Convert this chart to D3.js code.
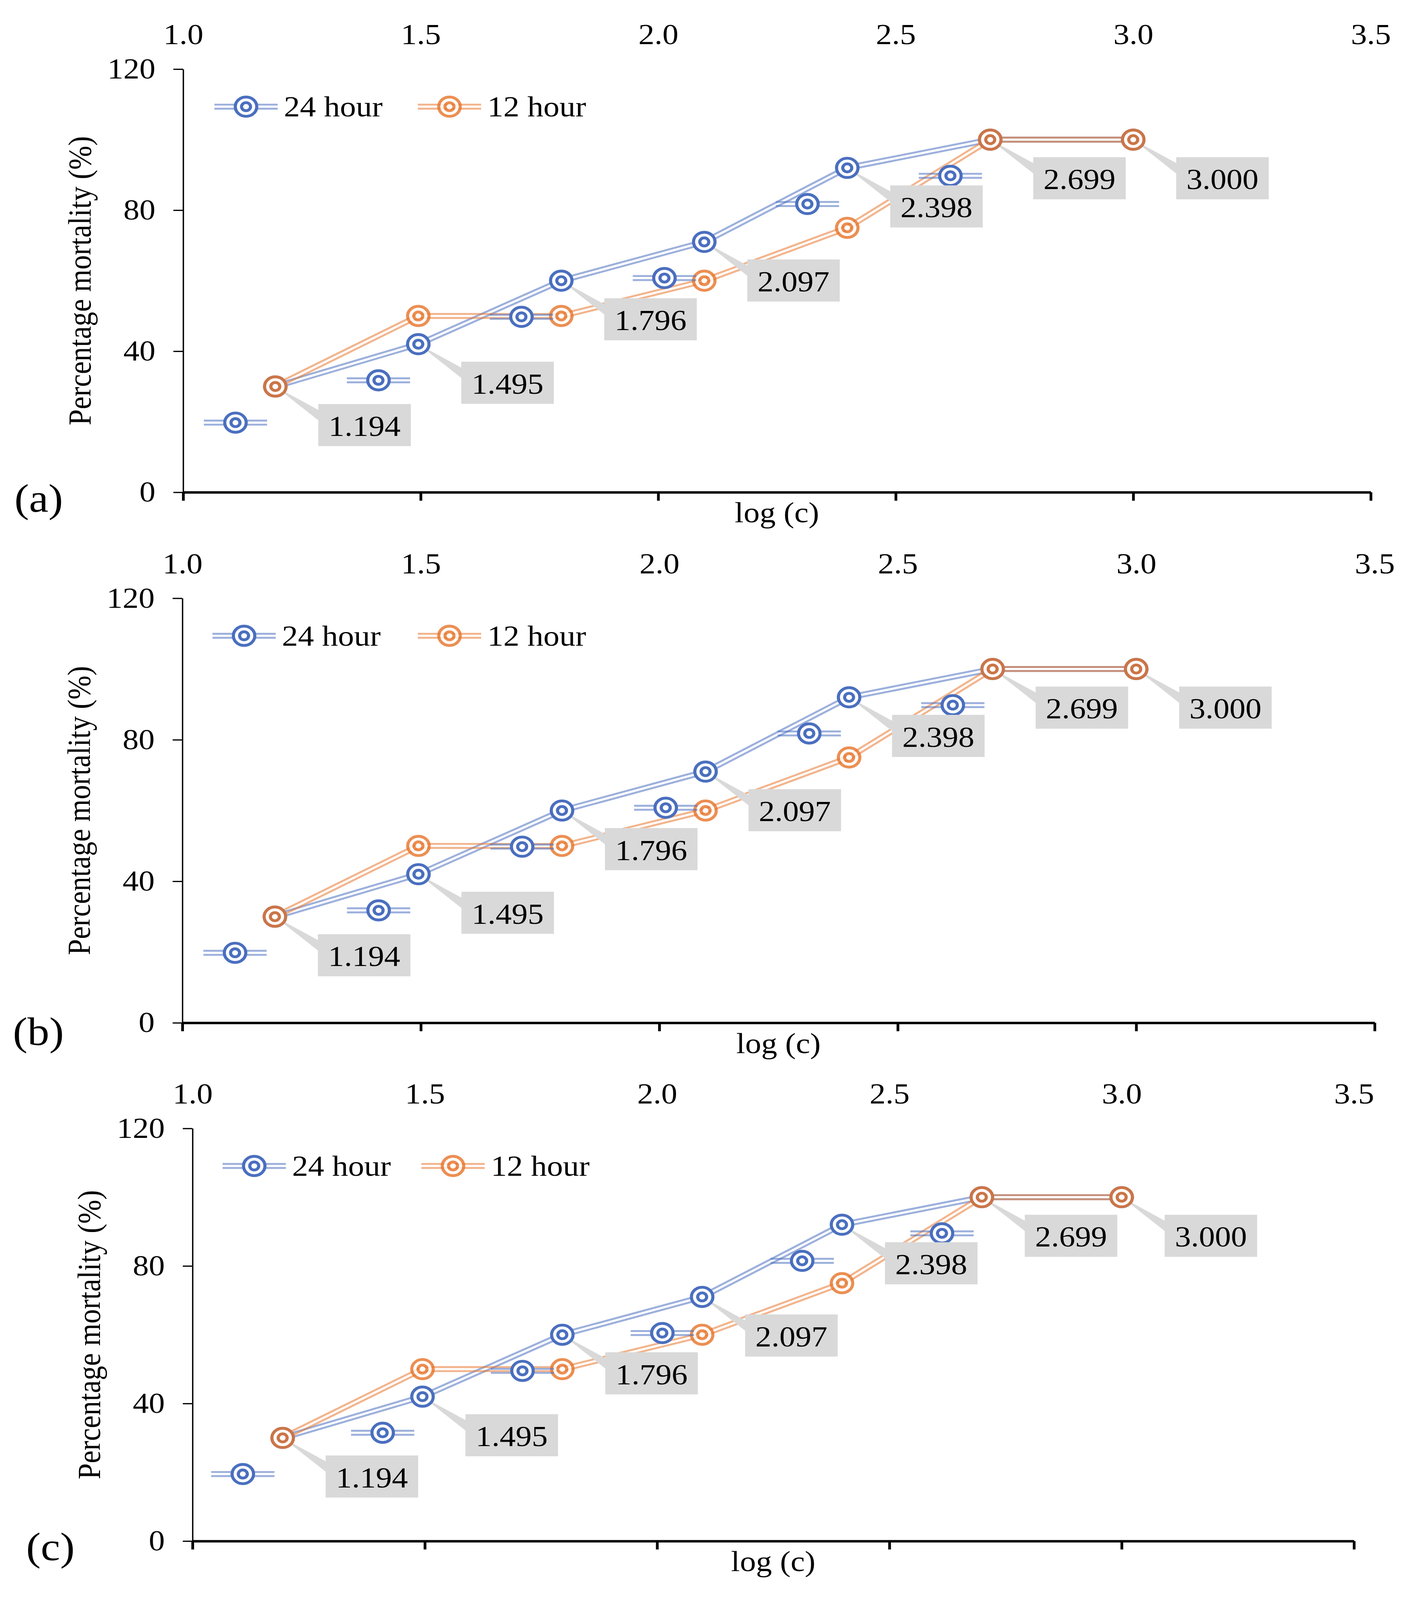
<!DOCTYPE html>
<html><head><meta charset="utf-8">
<script src="https://cdn.jsdelivr.net/npm/d3@7"></script>
<style>
html,body{margin:0;padding:0;background:#fff;width:100%;height:100%;overflow:hidden}
#chart{display:block;width:100vw;height:100vh}
</style>
</head><body>
<svg id="chart" viewBox="0 0 3631 4560" preserveAspectRatio="none" xmlns="http://www.w3.org/2000/svg"></svg>
<script>
// ---- data ----
const logConc = [1.194, 1.495, 1.796, 2.097, 2.398, 2.699, 3.000];
const mortality24 = [30, 42, 60, 71, 92, 100, 100];
const mortality12 = [30, 50, 50, 60, 75, 100, 100];
const seriesNames = ["24 hour", "12 hour"];
const xTicks = [1.0, 1.5, 2.0, 2.5, 3.0, 3.5];
const yTicks = [0, 40, 80, 120];
const panelLetters = ["(a)", "(b)", "(c)"];
const xTitle = "log (c)";
const yTitle = "Percentage mortality (%)";

// ---- layout / style ----
const FONT = "'Liberation Serif','Times New Roman',Times,serif";
const layouts = [
  {x0: 469, x1: 3510, y0: 197,  y1: 1403, letterX: 37, letterY: 1458, legendX: [630, 1151]},
  {x0: 467, x1: 3520, y0: 1705, y1: 2915, letterX: 33, letterY: 2978, legendX: [625, 1151]},
  {x0: 493, x1: 3467, y0: 3216, y1: 4392, letterX: 67, letterY: 4446, legendX: [651, 1160]}
];
const col = {
  blue: "#4A6FBF", orange: "#E8772E", lineOpacity: 0.55, orangeMarkerOpacity: 0.82, box: "#D9D9D9"
};

const svg = d3.select("#chart");
svg.append("rect").attr("width", 3631).attr("height", 4560).attr("fill", "#fff");

function doubleLine(g, xa, ya, xb, yb, color, op) {
  const dx = xb - xa, dy = yb - ya, len = Math.hypot(dx, dy) || 1;
  const nx = -dy / len * 5.75, ny = dx / len * 5.75;
  [1, -1].forEach(s => {
    g.append("line")
      .attr("x1", xa + s * nx).attr("y1", ya + s * ny)
      .attr("x2", xb + s * nx).attr("y2", yb + s * ny)
      .attr("stroke", color).attr("stroke-width", 5.5)
      .attr("stroke-opacity", op);
  });
}
function marker(g, cx, cy, color, op) {
  const m = g.append("g").attr("opacity", op);
  m.append("circle").attr("cx", cx).attr("cy", cy).attr("r", 27.5)
    .attr("fill", "#fff").attr("stroke", color).attr("stroke-width", 8);
  m.append("circle").attr("cx", cx).attr("cy", cy).attr("r", 11.5)
    .attr("fill", "#fff").attr("stroke", color).attr("stroke-width", 8);
}

layouts.forEach((L, pi) => {
  const g = svg.append("g");
  const x = d3.scaleLinear().domain([1.0, 3.5]).range([L.x0, L.x1]);
  const y = d3.scaleLinear().domain([0, 120]).range([L.y1, L.y0]);

  // y axis
  const ya = g.append("g").attr("transform", `translate(${L.x0},0)`)
    .call(d3.axisLeft(y).tickValues(yTicks).tickSize(25).tickSizeOuter(0).tickPadding(46));
  ya.select(".domain").attr("stroke", "#000").attr("stroke-width", 3.5);
  ya.selectAll(".tick line").attr("stroke", "#000").attr("stroke-width", 3.5);
  ya.selectAll(".tick text").attr("font-family", FONT).attr("font-size", 82).attr("fill", "#000");

  // bottom x axis (ticks only)
  const xb = g.append("g").attr("transform", `translate(0,${L.y1})`)
    .call(d3.axisBottom(x).tickValues(xTicks).tickSize(24).tickSizeOuter(0).tickFormat(""));
  xb.select(".domain").attr("stroke", "#000").attr("stroke-width", 7);
  xb.selectAll(".tick line").attr("stroke", "#000").attr("stroke-width", 7);

  // top x axis (labels only)
  const xt = g.append("g").attr("transform", `translate(0,${L.y0})`)
    .call(d3.axisTop(x).tickValues(xTicks).tickSize(0).tickPadding(71).tickFormat(d3.format(".1f")));
  xt.select(".domain").remove();
  xt.selectAll(".tick text").attr("font-family", FONT).attr("font-size", 82).attr("fill", "#000");

  // titles
  g.append("text").attr("x", (L.x0 + L.x1) / 2).attr("y", L.y1 + 86)
    .attr("text-anchor", "middle").attr("font-family", FONT).attr("font-size", 82).text(xTitle);
  const ytx = L.x0 - 237, yty = (L.y0 + L.y1) / 2;
  g.append("text").attr("transform", `translate(${ytx},${yty}) rotate(-90)`)
    .attr("text-anchor", "middle").attr("font-family", FONT).attr("font-size", 82).text(yTitle);
  g.append("text").attr("x", L.letterX).attr("y", L.letterY)
    .attr("font-family", FONT).attr("font-size", 112).text(panelLetters[pi]);

  // series lines
  const pts24 = logConc.map((c, i) => [x(c), y(mortality24[i])]);
  const pts12 = logConc.map((c, i) => [x(c), y(mortality12[i])]);
  const lines = g.append("g");
  for (let i = 0; i < pts24.length - 1; i++)
    doubleLine(lines, pts24[i][0], pts24[i][1], pts24[i + 1][0], pts24[i + 1][1], col.blue, col.lineOpacity);
  for (let i = 0; i < pts12.length - 1; i++)
    doubleLine(lines, pts12[i][0], pts12[i][1], pts12[i + 1][0], pts12[i + 1][1], col.orange, col.lineOpacity);

  // label callout wedges (under markers)
  const boxW = 237, boxH = 120, offX = 110, offY = 50;
  const wedges = g.append("g");
  pts24.forEach(p => {
    const bl = p[0] + offX, bt = p[1] + offY;
    wedges.append("polygon")
      .attr("points", [[p[0], p[1]], [bl + 2, bt + 18], [bl + 2, bt + 48]].map(q => q.join(",")).join(" "))
      .attr("fill", col.box);
  });

  // markers
  const mk = g.append("g");
  pts24.forEach(p => marker(mk, p[0], p[1], col.blue, 1));
  pts12.forEach(p => marker(mk, p[0], p[1], col.orange, col.orangeMarkerOpacity));

  // data-label legend keys (24 hour)
  const keys = g.append("g");
  pts24.forEach(p => {
    const kx = p[0] - 102, ky = p[1] + 103;
    doubleLine(keys, kx - 81, ky, kx + 81, ky, col.blue, col.lineOpacity);
    marker(keys, kx, ky, col.blue, 1);
  });

  // data label boxes
  const boxes = g.append("g");
  pts24.forEach((p, i) => {
    const bl = p[0] + offX, bt = p[1] + offY;
    boxes.append("rect").attr("x", bl).attr("y", bt).attr("width", boxW).attr("height", boxH).attr("fill", col.box);
    boxes.append("text").attr("x", bl + boxW / 2).attr("y", bt + 91).attr("text-anchor", "middle")
      .attr("font-family", FONT).attr("font-size", 82).attr("fill", "#000")
      .text(d3.format(".3f")(logConc[i]));
  });

  // legend
  const ly = L.y0 + 107;
  const lg = g.append("g");
  [[col.blue, 1], [col.orange, col.orangeMarkerOpacity]].forEach((c, si) => {
    const mx = L.legendX[si];
    doubleLine(lg, mx - 81, ly, mx + 81, ly, c[0], col.lineOpacity);
    marker(lg, mx, ly, c[0], c[1]);
    lg.append("text").attr("x", mx + 97).attr("y", ly + 28)
      .attr("font-family", FONT).attr("font-size", 82).attr("fill", "#000").text(seriesNames[si]);
  });
});
</script>
</body></html>
